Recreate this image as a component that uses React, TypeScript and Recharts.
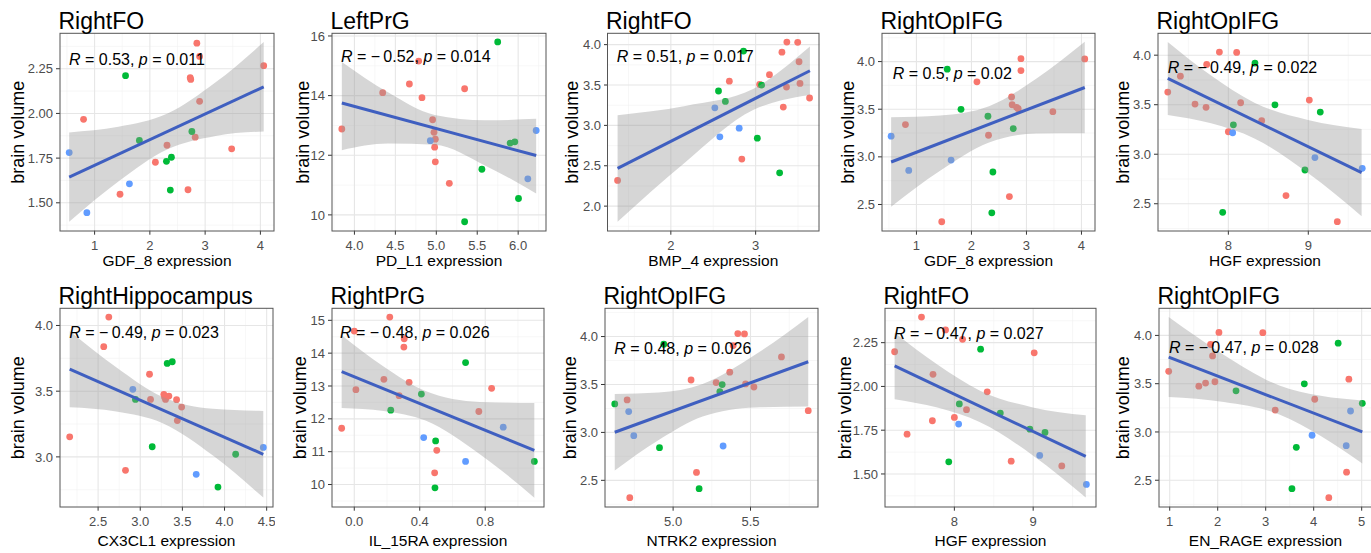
import React from "react";
import {
  ComposedChart,
  Scatter,
  Area,
  Line,
  XAxis,
  YAxis,
  CartesianGrid,
} from "recharts";

type Pt = [number, number];

const RED = "#F8766D";
const GREEN = "#00BA38";
const BLUE = "#619CFF";
const FIT = "#3F5FC0";

const titles = [
  "RightFO", "LeftPrG", "RightFO", "RightOpIFG", "RightOpIFG",
  "RightHippocampus", "RightPrG", "RightOpIFG", "RightFO", "RightOpIFG",
];
const xTitles = [
  "GDF_8 expression", "PD_L1 expression", "BMP_4 expression", "GDF_8 expression", "HGF expression",
  "CX3CL1 expression", "IL_15RA expression", "NTRK2 expression", "HGF expression", "EN_RAGE expression",
];
const rValues = ["0.53", "\u2212\u20090.52", "0.51", "0.5", "\u2212\u20090.49", "\u2212\u20090.49", "\u2212\u20090.48", "0.48", "\u2212\u20090.47", "\u2212\u20090.47"];
const pValues = ["0.011", "0.014", "0.017", "0.02", "0.022", "0.023", "0.026", "0.026", "0.027", "0.028"];

// 1: RightFO ~ GDF_8
const p1Red: Pt[] = [[0.8, 1.967], [1.46, 1.548], [2.1, 1.727], [2.31, 1.822], [2.69, 1.573], [2.73, 2.2], [2.74, 2.19], [2.85, 2.393], [2.9, 2.319], [2.9, 2.068], [2.82, 1.867], [3.48, 1.802], [4.06, 2.267]];
const p1Green: Pt[] = [[1.56, 2.211], [1.81, 1.849], [2.76, 1.899], [2.3, 1.732], [2.39, 1.755], [2.37, 1.571]];
const p1Blue: Pt[] = [[0.54, 1.781], [1.63, 1.606], [0.86, 1.445]];
const p1FitX = [0.54, 4.06];
const p1FitY = [1.644, 2.149];
const p1BandX = [0.54, 1.43, 2.32, 3.19, 4.06];
const p1BandLo = [1.394, 1.619, 1.799, 1.874, 1.899];
const p1BandHi = [1.894, 1.925, 1.999, 2.174, 2.399];

// 2: LeftPrG ~ PD_L1
const p2Red: Pt[] = [[3.846, 12.88], [4.345, 14.1], [4.671, 14.39], [4.785, 15.16], [4.825, 13.93], [4.955, 13.19], [4.972, 12.77], [4.988, 12.54], [4.98, 12.27], [4.988, 11.78], [5.159, 11.06], [5.346, 14.23]];
const p2Green: Pt[] = [[5.75, 15.8], [5.557, 11.53], [5.902, 12.41], [5.959, 12.45], [6.004, 10.55], [5.346, 9.77]];
const p2Blue: Pt[] = [[4.927, 12.49], [6.22, 12.83], [6.118, 11.21]];
const p2FitX = [3.846, 6.22];
const p2FitY = [13.75, 11.99];
const p2BandX = [3.846, 4.41, 4.98, 5.6, 6.22];
const p2BandLo = [12.17, 12.39, 12.35, 11.65, 10.72];
const p2BandHi = [15.13, 14.11, 13.35, 13.17, 13.22];

// 3: RightFO ~ BMP_4
const p3Red: Pt[] = [[1.372, 2.319], [2.69, 3.547], [2.837, 2.583], [3.047, 3.506], [3.163, 3.628], [3.31, 3.906], [3.326, 3.227], [3.368, 4.031], [3.364, 3.474], [3.496, 4.028], [3.512, 3.788], [3.523, 3.52], [3.636, 3.339]];
const p3Green: Pt[] = [[2.857, 3.92], [2.562, 3.426], [2.643, 3.297], [3.07, 3.499], [3.02, 2.841], [3.283, 2.413]];
const p3Blue: Pt[] = [[2.519, 3.217], [2.578, 2.858], [2.806, 2.966]];
const p3FitX = [1.372, 3.64];
const p3FitY = [2.467, 3.677];
const p3BandX = [1.372, 2.171, 2.97, 3.305, 3.64];
const p3BandLo = [1.807, 2.545, 3.19, 3.311, 3.377];
const p3BandHi = [3.127, 3.241, 3.45, 3.687, 3.977];

// 4: RightOpIFG ~ GDF_8
const p4Red: Pt[] = [[0.8, 3.339], [1.46, 2.319], [2.1, 3.788], [2.31, 3.227], [2.69, 2.583], [2.73, 3.628], [2.74, 3.547], [2.82, 3.52], [2.85, 3.506], [2.9, 4.031], [2.9, 3.906], [3.48, 3.474], [4.06, 4.028]];
const p4Green: Pt[] = [[1.56, 3.92], [1.81, 3.499], [2.3, 3.426], [2.76, 3.297], [2.39, 2.841], [2.37, 2.413]];
const p4Blue: Pt[] = [[0.54, 3.217], [0.86, 2.858], [1.63, 2.966]];
const p4FitX = [0.54, 4.06];
const p4FitY = [2.946, 3.728];
const p4BandX = [0.54, 1.43, 2.32, 3.19, 4.06];
const p4BandLo = [2.476, 2.854, 3.151, 3.245, 3.248];
const p4BandHi = [3.416, 3.434, 3.531, 3.825, 4.208];

// 5: RightOpIFG ~ HGF
const p5Red: Pt[] = [[7.242, 3.628], [7.4, 3.788], [7.583, 3.506], [7.721, 3.474], [7.729, 3.906], [7.888, 4.031], [8.0, 3.227], [8.104, 4.028], [8.154, 3.52], [8.417, 3.339], [8.721, 2.583], [9.013, 3.547], [9.363, 2.319]];
const p5Green: Pt[] = [[8.333, 3.92], [8.583, 3.499], [9.15, 3.426], [8.063, 3.297], [8.958, 2.841], [7.929, 2.413]];
const p5Blue: Pt[] = [[8.054, 3.217], [9.083, 2.966], [9.675, 2.858]];
const p5FitX = [7.242, 9.667];
const p5FitY = [3.765, 2.815];
const p5BandX = [7.242, 7.784, 8.326, 8.996, 9.667];
const p5BandLo = [3.397, 3.312, 3.16, 2.81, 2.375];
const p5BandHi = [4.133, 3.794, 3.52, 3.346, 3.255];

// 6: RightHippocampus ~ CX3CL1
const p6Red: Pt[] = [[2.163, 3.153], [2.567, 3.839], [2.627, 4.064], [2.825, 2.898], [3.11, 3.629], [3.122, 3.437], [3.28, 3.476], [3.288, 3.455], [3.3, 3.437], [3.34, 3.463], [3.431, 3.435], [3.44, 3.276], [3.491, 3.379]];
const p6Green: Pt[] = [[3.32, 3.711], [3.38, 3.724], [2.943, 3.437], [3.142, 3.077], [4.132, 3.02], [3.922, 2.77]];
const p6Blue: Pt[] = [[2.912, 3.514], [3.664, 2.867], [4.46, 3.072]];
const p6FitX = [2.163, 4.46];
const p6FitY = [3.667, 3.02];
const p6BandX = [2.163, 2.715, 3.266, 3.863, 4.46];
const p6BandLo = [3.377, 3.345, 3.256, 3.01, 2.69];
const p6BandHi = [3.957, 3.683, 3.456, 3.366, 3.35];

// 7: RightPrG ~ IL_15RA
const p7Red: Pt[] = [[-0.077, 11.714], [0.0, 14.673], [0.01, 12.888], [0.181, 13.204], [0.217, 15.1], [0.274, 12.704], [0.305, 14.439], [0.303, 14.184], [0.335, 13.112], [0.491, 10.357], [0.504, 11.041], [0.761, 12.224], [0.839, 12.929]];
const p7Green: Pt[] = [[0.223, 12.265], [0.41, 12.755], [0.68, 13.714], [0.497, 11.327], [0.493, 9.898], [1.1, 10.704]];
const p7Blue: Pt[] = [[0.424, 11.429], [0.68, 10.704], [0.91, 11.745]];
const p7FitX = [-0.077, 1.1];
const p7FitY = [13.44, 11.04];
const p7BandX = [-0.077, 0.179, 0.435, 0.767, 1.1];
const p7BandLo = [12.333, 12.241, 11.946, 10.924, 9.6];
const p7BandHi = [14.547, 13.595, 12.846, 12.514, 12.48];

// 8: RightOpIFG ~ NTRK2
const p8Red: Pt[] = [[4.703, 3.339], [4.72, 2.319], [5.116, 3.547], [5.151, 2.583], [5.278, 3.52], [5.366, 3.628], [5.388, 3.906], [5.418, 4.031], [5.461, 4.028], [5.468, 3.506], [5.522, 3.474], [5.7, 3.788], [5.873, 3.227]];
const p8Green: Pt[] = [[4.623, 3.297], [4.94, 3.92], [4.912, 2.841], [5.168, 2.413], [5.317, 3.499], [5.302, 3.426]];
const p8Blue: Pt[] = [[4.713, 3.217], [4.746, 2.966], [5.323, 2.858]];
const p8FitX = [4.623, 5.873];
const p8FitY = [3.002, 3.737];
const p8BandX = [4.623, 4.907, 5.191, 5.532, 5.873];
const p8BandLo = [2.602, 2.921, 3.166, 3.261, 3.27];
const p8BandHi = [3.402, 3.417, 3.506, 3.813, 4.204];

// 9: RightFO ~ HGF
const p9Red: Pt[] = [[7.242, 2.198], [7.4, 1.727], [7.583, 2.396], [7.721, 1.804], [7.729, 2.069], [7.888, 2.323], [8.0, 1.823], [8.104, 2.269], [8.154, 1.867], [8.417, 1.969], [8.721, 1.573], [9.013, 2.192], [9.363, 1.546]];
const p9Green: Pt[] = [[8.333, 2.213], [8.583, 1.848], [9.15, 1.737], [8.063, 1.9], [8.958, 1.756], [7.929, 1.569]];
const p9Blue: Pt[] = [[8.054, 1.785], [9.083, 1.606], [9.675, 1.44]];
const p9FitX = [7.242, 9.667];
const p9FitY = [2.117, 1.6];
const p9BandX = [7.242, 7.784, 8.326, 8.996, 9.667];
const p9BandLo = [1.927, 1.879, 1.796, 1.606, 1.365];
const p9BandHi = [2.307, 2.125, 1.976, 1.88, 1.835];

// 10: RightOpIFG ~ EN_RAGE
const p10Red: Pt[] = [[0.979, 3.628], [1.607, 3.474], [1.747, 3.506], [1.851, 3.906], [1.893, 3.788], [1.942, 3.52], [2.026, 4.031], [2.94, 4.028], [3.198, 3.227], [4.022, 3.339], [4.315, 2.319], [4.685, 2.583], [4.733, 3.547]];
const p10Green: Pt[] = [[2.382, 3.426], [3.805, 3.499], [4.51, 3.92], [5.013, 3.297], [3.638, 2.841], [3.547, 2.413]];
const p10Blue: Pt[] = [[3.966, 2.966], [4.678, 2.858], [4.768, 3.217]];
const p10FitX = [0.979, 5.013];
const p10FitY = [3.776, 3.0];
const p10BandX = [0.979, 2.131, 3.284, 4.148, 5.013];
const p10BandLo = [3.362, 3.31, 3.182, 2.958, 2.674];
const p10BandHi = [4.19, 3.798, 3.482, 3.374, 3.326];

// axis ranges and breaks
const xDomains: Pt[] = [[0.374, 4.246], [3.726, 6.34], [1.259, 3.753], [0.374, 4.246], [7.12, 9.797], [2.048, 4.575], [-0.136, 1.159], [4.56, 5.936], [7.12, 9.797], [0.777, 5.215]];
const yDomains: Pt[] = [[1.344, 2.45], [9.47, 16.1], [1.696, 4.144], [2.225, 4.3], [2.228, 4.224], [2.621, 4.133], [9.325, 15.375], [2.225, 4.298], [1.313, 2.448], [2.226, 4.284]];
const xTicks = [[1, 2, 3, 4], [4, 4.5, 5, 5.5, 6], [2, 3], [1, 2, 3, 4], [8, 9], [2.5, 3, 3.5, 4, 4.5], [0, 0.4, 0.8], [5, 5.5], [8, 9], [1, 2, 3, 4, 5]];
const yTicks = [[1.5, 1.75, 2, 2.25], [10, 12, 14, 16], [2, 2.5, 3, 3.5, 4], [2.5, 3, 3.5, 4], [2.5, 3, 3.5, 4], [3, 3.5, 4], [10, 11, 12, 13, 14, 15], [2.5, 3, 3.5, 4], [1.5, 1.75, 2, 2.25], [2.5, 3, 3.5, 4]];
const xMinor = [[0.5, 1.5, 2.5, 3.5], [3.75, 4.25, 4.75, 5.25, 5.75, 6.25], [1.5, 2.5, 3.5], [0.5, 1.5, 2.5, 3.5], [7.5, 8.5, 9.5], [2.25, 2.75, 3.25, 3.75, 4.25], [0.2, 0.6, 1.0], [4.75, 5.25, 5.75], [7.5, 8.5, 9.5], [1.5, 2.5, 3.5, 4.5]];
const yMinor = [[1.375, 1.625, 1.875, 2.125, 2.375], [11, 13, 15], [1.75, 2.25, 2.75, 3.25, 3.75], [2.25, 2.75, 3.25, 3.75, 4.25], [2.25, 2.75, 3.25, 3.75], [2.75, 3.25, 3.75], [9.5, 10.5, 11.5, 12.5, 13.5, 14.5], [2.25, 2.75, 3.25, 3.75, 4.25], [1.375, 1.625, 1.875, 2.125, 2.375], [2.25, 2.75, 3.25, 3.75, 4.25]];
const xDigits = [0, 1, 0, 0, 0, 1, 1, 1, 0, 0];
const yDigits = [2, 0, 1, 1, 1, 1, 0, 1, 2, 1];

const reds = [p1Red, p2Red, p3Red, p4Red, p5Red, p6Red, p7Red, p8Red, p9Red, p10Red];
const greens = [p1Green, p2Green, p3Green, p4Green, p5Green, p6Green, p7Green, p8Green, p9Green, p10Green];
const blues = [p1Blue, p2Blue, p3Blue, p4Blue, p5Blue, p6Blue, p7Blue, p8Blue, p9Blue, p10Blue];
const fitXs = [p1FitX, p2FitX, p3FitX, p4FitX, p5FitX, p6FitX, p7FitX, p8FitX, p9FitX, p10FitX];
const fitYs = [p1FitY, p2FitY, p3FitY, p4FitY, p5FitY, p6FitY, p7FitY, p8FitY, p9FitY, p10FitY];
const bandXs = [p1BandX, p2BandX, p3BandX, p4BandX, p5BandX, p6BandX, p7BandX, p8BandX, p9BandX, p10BandX];
const bandLos = [p1BandLo, p2BandLo, p3BandLo, p4BandLo, p5BandLo, p6BandLo, p7BandLo, p8BandLo, p9BandLo, p10BandLo];
const bandHis = [p1BandHi, p2BandHi, p3BandHi, p4BandHi, p5BandHi, p6BandHi, p7BandHi, p8BandHi, p9BandHi, p10BandHi];

// page layout (pixels)
const plotLeft = [60, 332, 607.5, 882, 1158, 60, 332, 605, 885, 1159];
const plotRight = [274, 546, 819, 1095, 1372, 273, 544, 818, 1096, 1372];
const rowTop = [33.3, 308.3];
const rowBottom = [231, 507];
const xTitleY = [266, 546];
const yTitleX = [18, 303.5, 571.7, 848, 1123, 18, 300, 570, 845, 1123.5];
const annX = [69, 341, 616.7, 892.7, 1167.7, 69.3, 340, 614.3, 894, 1169];
const annY = [65, 61.7, 62.3, 79, 72.7, 338.3, 338.3, 354.3, 339, 353.3];

const AX = 50;
const XH = 30;
const PAD = 10;
const FONT = "'Liberation Sans', Arial, sans-serif";

const toPts = (arr: Pt[]) => arr.map(([x, y]) => ({ x, y }));

const dot = (color: string) => (props: any) =>
  <circle cx={props.cx} cy={props.cy} r={3.4} fill={color} />;

function Panel({ i }: { i: number }) {
  const row = i < 5 ? 0 : 1;
  const L = plotLeft[i];
  const W = plotRight[i] - L;
  const T = rowTop[row];
  const H = rowBottom[row] - T;
  const band = bandXs[i].map((x, k) => ({ x, band: [bandLos[i][k], bandHis[i][k]] }));
  const fit = fitXs[i].map((x, k) => ({ x, fit: fitYs[i][k] }));
  const tick = { fill: "#4d4d4d", fontSize: 13 };
  const cw = W + AX + 2;
  const ch = H + XH + PAD;

  return (
    <div style={{ position: "absolute", left: L - AX, top: T - PAD, width: cw, height: ch }}>
      {/* points, grid and axes */}
      <div style={{ position: "absolute", left: 0, top: 0 }}>
        <ComposedChart width={cw} height={ch} margin={{ top: PAD, right: 2, bottom: 0, left: 0 }}>
          <CartesianGrid verticalValues={xMinor[i]} horizontalValues={yMinor[i]} stroke="#f2f2f2" strokeWidth={0.6} />
          <CartesianGrid verticalValues={xTicks[i]} horizontalValues={yTicks[i]} stroke="#e6e6e6" strokeWidth={1.1} />
          <XAxis
            type="number"
            dataKey="x"
            domain={xDomains[i]}
            ticks={xTicks[i]}
            allowDataOverflow
            interval={0}
            height={XH}
            tickSize={4}
            tickMargin={6}
            axisLine={false}
            tickLine={{ stroke: "#333" }}
            tick={tick}
            tickFormatter={(v: number) => v.toFixed(xDigits[i])}
          />
          <YAxis
            type="number"
            dataKey="y"
            domain={yDomains[i]}
            ticks={yTicks[i]}
            allowDataOverflow
            interval={0}
            width={AX}
            tickSize={4}
            tickMargin={3}
            axisLine={false}
            tickLine={{ stroke: "#333" }}
            tick={tick}
            tickFormatter={(v: number) => v.toFixed(yDigits[i])}
          />
          <Scatter data={toPts(reds[i])} fill={RED} shape={dot(RED)} isAnimationActive={false} />
          <Scatter data={toPts(greens[i])} fill={GREEN} shape={dot(GREEN)} isAnimationActive={false} />
          <Scatter data={toPts(blues[i])} fill={BLUE} shape={dot(BLUE)} isAnimationActive={false} />
        </ComposedChart>
      </div>
      {/* confidence band and fitted line drawn over the points */}
      <div style={{ position: "absolute", left: 0, top: 0 }}>
        <ComposedChart width={cw} height={ch} margin={{ top: PAD, right: 2, bottom: XH, left: AX }}>
          <XAxis type="number" dataKey="x" domain={xDomains[i]} allowDataOverflow hide />
          <YAxis type="number" domain={yDomains[i]} allowDataOverflow hide />
          <Area
            data={band}
            dataKey="band"
            type="monotone"
            fill="#999999"
            fillOpacity={0.4}
            stroke="none"
            isAnimationActive={false}
          />
          <Line
            data={fit}
            dataKey="fit"
            type="linear"
            stroke={FIT}
            strokeWidth={3}
            dot={false}
            isAnimationActive={false}
          />
        </ComposedChart>
      </div>
    </div>
  );
}

export default function App() {
  const idx = titles.map((_, i) => i);
  return (
    <div
      style={{
        position: "absolute",
        left: 0,
        top: 0,
        width: 1371,
        height: 553,
        overflow: "hidden",
        background: "#fff",
        fontFamily: FONT,
      }}
    >
      {idx.map((i) => (
        <Panel key={i} i={i} />
      ))}
      <svg
        width={1371}
        height={553}
        style={{ position: "absolute", left: 0, top: 0, pointerEvents: "none" }}
        fontFamily={FONT}
      >
        {idx.map((i) => {
          const row = i < 5 ? 0 : 1;
          const L = plotLeft[i];
          const R = plotRight[i];
          const T = rowTop[row];
          const B = rowBottom[row];
          const cy = (T + B) / 2;
          return (
            <g key={i}>
              <rect x={L} y={T} width={R - L} height={B - T} fill="none" stroke="#555" strokeWidth={1} />
              <text x={L - 1.5} y={T - 4.5} fontSize={23} fill="#000">
                {titles[i]}
              </text>
              <text x={(L + R) / 2} y={xTitleY[row]} fontSize={15.5} textAnchor="middle" fill="#000">
                {xTitles[i]}
              </text>
              <text
                x={yTitleX[i] + 6}
                y={cy}
                fontSize={18}
                textAnchor="middle"
                fill="#000"
                transform={`rotate(-90 ${yTitleX[i] + 6} ${cy})`}
              >
                brain volume
              </text>
              <text x={annX[i]} y={annY[i]} fontSize={16} fill="#000">
                <tspan fontStyle="italic">R</tspan>
                {` = ${rValues[i]}, `}
                <tspan fontStyle="italic">p</tspan>
                {` = ${pValues[i]}`}
              </text>
            </g>
          );
        })}
      </svg>
    </div>
  );
}
